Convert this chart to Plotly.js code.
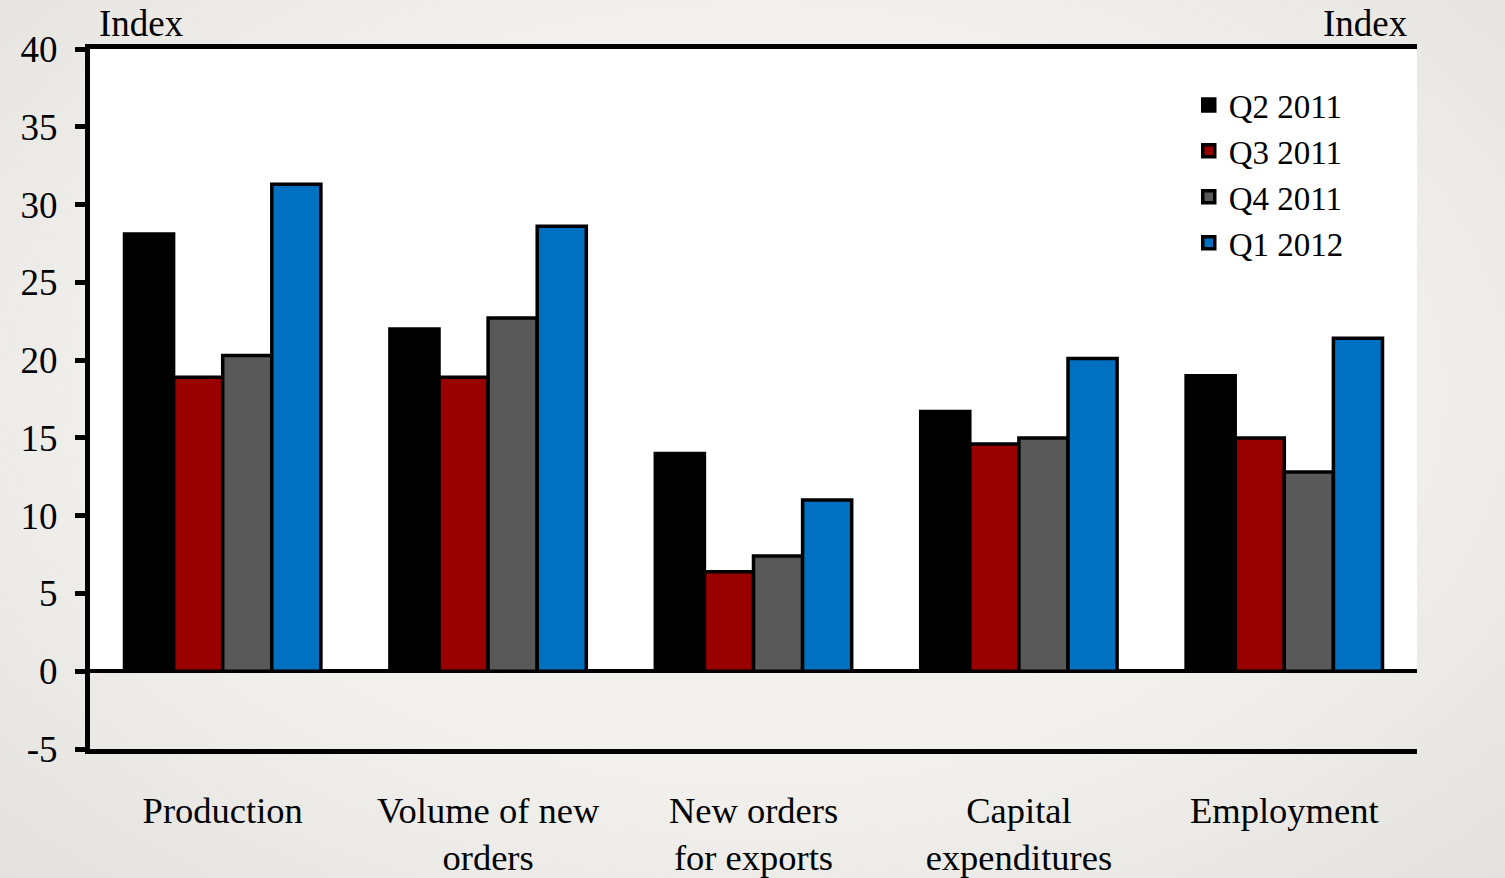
<!DOCTYPE html>
<html>
<head>
<meta charset="utf-8">
<script src="https://cdn.plot.ly/plotly-3.0.1.min.js"></script>
<style>
html,body{margin:0;padding:0;}
#chart{width:1505px;height:878px;background:radial-gradient(ellipse at 50% 45%, #f8f7f5 0%, #f1efec 60%, #e4e2de 100%);}
</style>
</head>
<body>
<div id="chart"></div>
<script>
const categories = ["Production", "Volume of new<br>orders", "New orders<br>for exports", "Capital<br>expenditures", "Employment"];
const seriesNames = ["Q2 2011", "Q3 2011", "Q4 2011", "Q1 2012"];
const q2_2011 = [28.1, 22.0, 14.0, 16.7, 19.0];
const q3_2011 = [18.9, 18.9, 6.4, 14.6, 15.0];
const q4_2011 = [20.3, 22.7, 7.4, 15.0, 12.8];
const q1_2012 = [31.3, 28.6, 11.0, 20.1, 21.4];
const yTicks = [-5, 0, 5, 10, 15, 20, 25, 30, 35, 40];

const colors = ["#000000", "#990000", "#595959", "#0070C0"];
const values = [q2_2011, q3_2011, q4_2011, q1_2012];
const FONT = "Liberation Serif, Times New Roman, serif";

const traces = values.map((v, i) => ({
  type: "bar",
  name: seriesNames[i],
  x: categories,
  y: v,
  marker: {color: colors[i], line: {color: "#000", width: 3.5}},
  hoverinfo: "skip"
}));

const layout = {
  width: 1505, height: 878,
  margin: {l: 90, r: 88, t: 49, b: 129},
  paper_bgcolor: "rgba(0,0,0,0)",
  plot_bgcolor: "rgba(0,0,0,0)",
  barmode: "group",
  bargap: 0.26,
  bargroupgap: 0,
  font: {family: FONT, color: "#000", size: 36},
  showlegend: true,
  legend: {
    x: 0.828, y: 0.96, xanchor: "left", yanchor: "top",
    bgcolor: "rgba(0,0,0,0)",
    font: {family: FONT, size: 33, color: "#000"},
    itemwidth: 30,
    tracegroupgap: 0
  },
  xaxis: {
    type: "category",
    showline: true, linecolor: "#000", linewidth: 5,
    mirror: true,
    ticks: "", showgrid: false,
    tickfont: {family: FONT, size: 36.5, color: "#000"},
    ticklabelstandoff: 25
  },
  yaxis: {
    range: [-5, 40],
    tickvals: yTicks,
    ticktext: yTicks.map(String),
    showline: true, linecolor: "#000", linewidth: 5,
    ticks: "outside", ticklen: 10, tickwidth: 5, tickcolor: "#000",
    showgrid: false,
    zeroline: true, zerolinecolor: "#000", zerolinewidth: 4,
    tickfont: {family: FONT, size: 37, color: "#000"},
    ticklabelstandoff: 10
  },
  yaxis2: {
    overlaying: "y", side: "right", anchor: "x",
    range: [-5, 40],
    tickvals: yTicks,
    ticktext: yTicks.map(String),
    showline: true, linecolor: "#000", linewidth: 5,
    ticks: "outside", ticklen: 10, tickwidth: 5, tickcolor: "#000",
    showgrid: false, zeroline: false,
    tickfont: {family: FONT, size: 37, color: "#000"},
    ticklabelstandoff: 16
  },
  shapes: [{
    type: "rect", xref: "paper", yref: "y", x0: 0, x1: 1, y0: 0, y1: 40,
    fillcolor: "#ffffff", line: {width: 0}, layer: "below"
  }],
  annotations: [
    {text: "Index", xref: "paper", yref: "paper", x: 0.005, y: 1, xanchor: "left", yanchor: "bottom",
     showarrow: false, font: {family: FONT, size: 37, color: "#000"}, yshift: 3},
    {text: "Index", xref: "paper", yref: "paper", x: 0.995, y: 1, xanchor: "right", yanchor: "bottom",
     showarrow: false, font: {family: FONT, size: 37, color: "#000"}, yshift: 3}
  ]
};

Plotly.newPlot("chart", traces, layout, {displayModeBar: false, staticPlot: true});
</script>
</body>
</html>
